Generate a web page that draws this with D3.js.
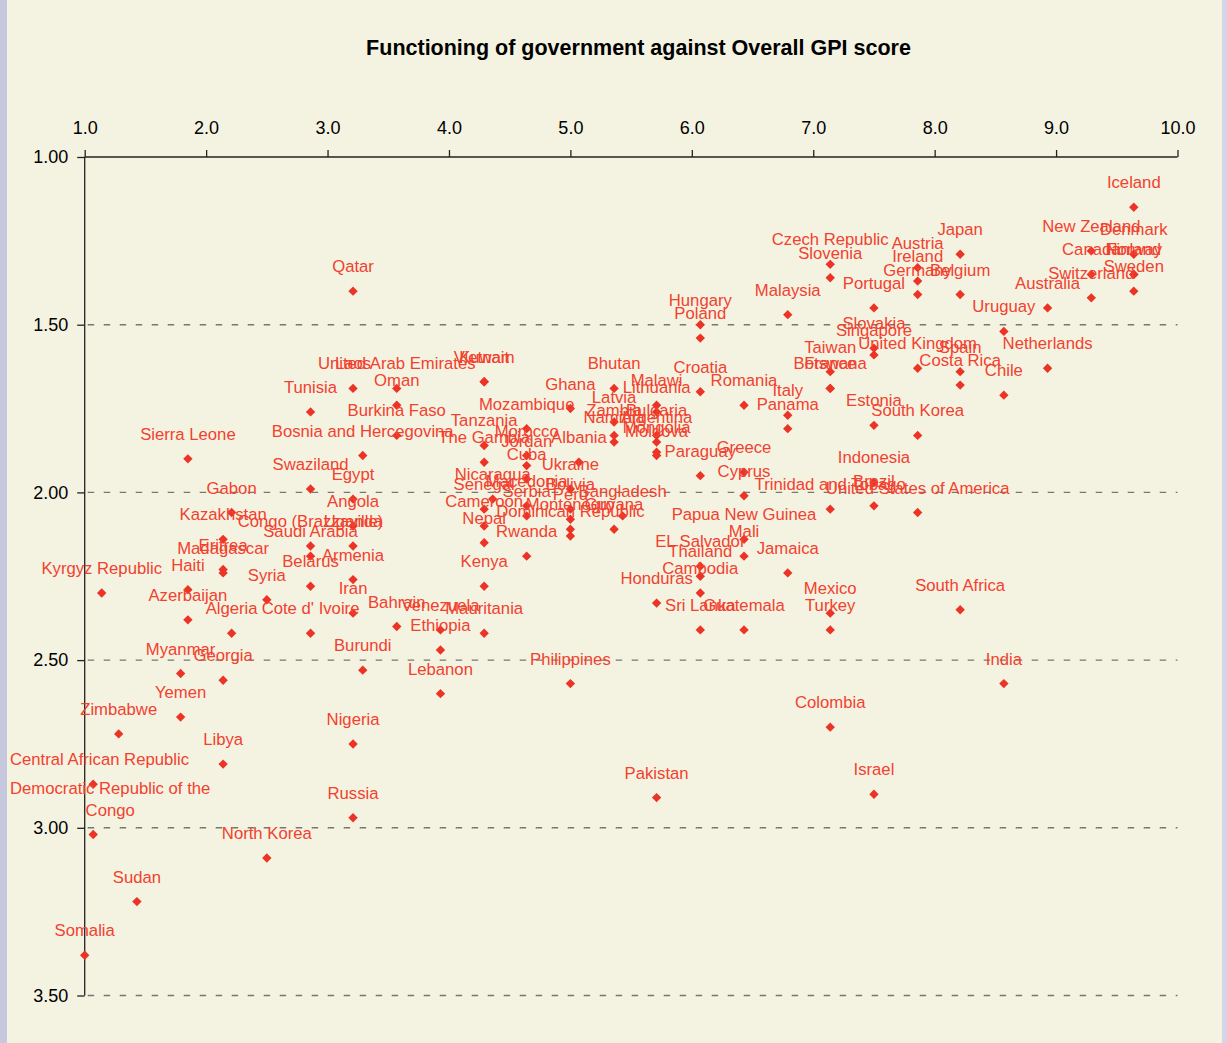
<!DOCTYPE html>
<html>
<head>
<meta charset="utf-8">
<script src="https://cdn.jsdelivr.net/npm/d3@7"></script>
<style>
  body { margin: 0; background: #c6c9dd; }
  svg { display: block; }
  text { font-family: "Liberation Sans", Arial, sans-serif; }
</style>
</head>
<body>
<script>
// country names, functioning of government score (x) and overall GPI score (y)
const countries = [
  "Iceland", "Japan", "Denmark", "New Zealand", "Czech Republic", "Austria", "Slovenia", "Ireland", "Canada", "Norway",
  "Finland", "Sweden", "Germany", "Belgium", "Switzerland", "Portugal", "Australia", "Malaysia", "Hungary", "Uruguay",
  "Poland", "Slovakia", "Singapore", "United Kingdom", "Netherlands", "Taiwan", "Spain", "Costa Rica", "Qatar", "Vietnam",
  "Kuwait", "Laos", "United Arab Emirates", "Bhutan", "Botswana", "France", "Croatia", "Chile", "Oman", "Malawi",
  "Romania", "Ghana", "Lithuania", "Tunisia", "Italy", "Latvia", "Estonia", "Mozambique", "Panama", "Zambia",
  "Bulgaria", "Burkina Faso", "South Korea", "Namibia", "Argentina", "Tanzania", "Mongolia", "Morocco", "Bosnia and Hercegovina", "Moldova",
  "Sierra Leone", "The Gambia", "Albania", "Jordan", "Greece", "Paraguay", "Cuba", "Indonesia", "Swaziland", "Ukraine",
  "Cyprus", "Egypt", "Nicaragua", "Macedonia", "Brazil", "Senegal", "Bolivia", "Trinidad and Tobago", "Gabon", "United States of America",
  "Serbia", "Bangladesh", "Peru", "Angola", "Cameroon", "Montenegro", "Guyana", "Dominican Republic", "Kazakhstan", "Papua New Guinea",
  "Nepal", "Uganda", "Congo (Brazzaville)", "Saudi Arabia", "Rwanda", "Mali", "EL Salvador", "Eritrea", "Madagascar", "Jamaica",
  "Thailand", "Armenia", "Kenya", "Belarus", "Haiti", "Kyrgyz Republic", "Cambodia", "Syria", "Honduras", "South Africa",
  "Iran", "Mexico", "Azerbaijan", "Bahrain", "Venezuela", "Sri Lanka", "Guatemala", "Turkey", "Cote d' Ivoire", "Algeria",
  "Mauritania", "Ethiopia", "Burundi", "Myanmar", "Georgia", "India", "Philippines", "Lebanon", "Yemen", "Colombia",
  "Zimbabwe", "Nigeria", "Libya", "Central African Republic", "Israel", "Pakistan", "Russia", "Democratic Republic of the Congo", "North Korea", "Sudan",
  "Somalia"
];
const govScore = [
  9.64, 8.21, 9.64, 9.29, 7.14, 7.86, 7.14, 7.86, 9.29, 9.64,
  9.64, 9.64, 7.86, 8.21, 9.29, 7.50, 8.93, 6.79, 6.07, 8.57,
  6.07, 7.50, 7.50, 7.86, 8.93, 7.14, 8.21, 8.21, 3.21, 4.29,
  4.29, 3.21, 3.57, 5.36, 7.14, 7.14, 6.07, 8.57, 3.57, 5.71,
  6.43, 5.00, 5.71, 2.86, 6.79, 5.36, 7.50, 4.64, 6.79, 5.36,
  5.71, 3.57, 7.86, 5.36, 5.71, 4.29, 5.71, 4.64, 3.29, 5.71,
  1.85, 4.29, 5.07, 4.64, 6.43, 6.07, 4.64, 7.50, 2.86, 5.00,
  6.43, 3.21, 4.36, 4.64, 7.50, 4.29, 5.00, 7.14, 2.21, 7.86,
  4.64, 5.43, 5.00, 3.21, 4.29, 5.00, 5.36, 5.00, 2.14, 6.43,
  4.29, 3.21, 2.86, 2.86, 4.64, 6.43, 6.07, 2.14, 2.14, 6.79,
  6.07, 3.21, 4.29, 2.86, 1.85, 1.14, 6.07, 2.50, 5.71, 8.21,
  3.21, 7.14, 1.85, 3.57, 3.93, 6.07, 6.43, 7.14, 2.86, 2.21,
  4.29, 3.93, 3.29, 1.79, 2.14, 8.57, 5.00, 3.93, 1.79, 7.14,
  1.28, 3.21, 2.14, 1.07, 7.50, 5.71, 3.21, 1.07, 2.50, 1.43,
  1.00
];
const gpiScore = [
  1.15, 1.29, 1.29, 1.28, 1.32, 1.33, 1.36, 1.37, 1.35, 1.35,
  1.35, 1.40, 1.41, 1.41, 1.42, 1.45, 1.45, 1.47, 1.50, 1.52,
  1.54, 1.57, 1.59, 1.63, 1.63, 1.64, 1.64, 1.68, 1.40, 1.67,
  1.67, 1.69, 1.69, 1.69, 1.69, 1.69, 1.70, 1.71, 1.74, 1.74,
  1.74, 1.75, 1.76, 1.76, 1.77, 1.79, 1.80, 1.81, 1.81, 1.83,
  1.83, 1.83, 1.83, 1.85, 1.85, 1.86, 1.88, 1.89, 1.89, 1.89,
  1.90, 1.91, 1.91, 1.92, 1.94, 1.95, 1.96, 1.97, 1.99, 1.99,
  2.01, 2.02, 2.02, 2.04, 2.04, 2.05, 2.05, 2.05, 2.06, 2.06,
  2.07, 2.07, 2.08, 2.10, 2.10, 2.11, 2.11, 2.13, 2.14, 2.14,
  2.15, 2.16, 2.16, 2.19, 2.19, 2.19, 2.22, 2.23, 2.24, 2.24,
  2.25, 2.26, 2.28, 2.28, 2.29, 2.30, 2.30, 2.32, 2.33, 2.35,
  2.36, 2.36, 2.38, 2.40, 2.41, 2.41, 2.41, 2.41, 2.42, 2.42,
  2.42, 2.47, 2.53, 2.54, 2.56, 2.57, 2.57, 2.60, 2.67, 2.70,
  2.72, 2.75, 2.81, 2.87, 2.90, 2.91, 2.97, 3.02, 3.09, 3.22,
  3.38
];
const xTicks = [1, 2, 3, 4, 5, 6, 7, 8, 9, 10];
const yTicks = [1.0, 1.5, 2.0, 2.5, 3.0, 3.5];
const title = "Functioning of government against Overall GPI score";

const W = 1227, H = 1043;
const svg = d3.select("body").append("svg")
  .attr("width", W)
  .attr("height", H);

// chart area
svg.append("rect").attr("x", 7).attr("y", 0).attr("width", 1215).attr("height", H).attr("fill", "#f4f3e1");
svg.append("rect").attr("x", 1222).attr("y", 0).attr("width", 5).attr("height", H).attr("fill", "#d3d6e6");

const x = d3.scaleLinear().domain([1, 10]).range([84.7, 1177.5]);
const y = d3.scaleLinear().domain([1, 3.5]).range([157, 995.5]);

svg.append("text")
  .attr("x", 638.5).attr("y", 55)
  .attr("text-anchor", "middle")
  .attr("font-size", 21.5).attr("font-weight", "bold")
  .attr("fill", "#000")
  .text(title);

// dashed gridlines
svg.append("g").selectAll("line")
  .data(yTicks.filter(d => d > 1))
  .join("line")
  .attr("x1", x(1)).attr("x2", x(10))
  .attr("y1", d => y(d)).attr("y2", d => y(d))
  .attr("stroke", "#77776f")
  .attr("stroke-width", 1.4)
  .attr("stroke-dasharray", "6.5,9.5")
  .attr("stroke-dashoffset", -3);

// axes
const xAxis = svg.append("g")
  .attr("transform", `translate(0,${y(1)})`)
  .call(d3.axisTop(x).tickValues(xTicks).tickSize(7).tickPadding(16.5).tickFormat(d3.format(".1f")));
const yAxis = svg.append("g")
  .attr("transform", `translate(${x(1)},0)`)
  .call(d3.axisLeft(y).tickValues(yTicks).tickSize(7.5).tickPadding(9).tickFormat(d3.format(".2f")));
[xAxis, yAxis].forEach(g => {
  g.select(".domain").attr("stroke", "#222").attr("stroke-width", 1.3);
  g.selectAll(".tick line").attr("stroke", "#222").attr("stroke-width", 1.3);
  g.selectAll(".tick text")
    .attr("font-size", 18)
    .attr("font-family", "'Liberation Sans', Arial, sans-serif")
    .attr("fill", "#000");
});
yAxis.select(".domain").attr("d", `M0,${y(1)}V${y(3.5)}`);
xAxis.select(".domain").attr("d", `M${x(1)},0H${x(10)}`);

const data = countries.map((name, i) => ({ name, gov: govScore[i], gpi: gpiScore[i] }));

// diamond markers
const diamond = d3.symbol().type(d3.symbolSquare).size(44);
svg.append("g").selectAll("path")
  .data(data)
  .join("path")
  .attr("d", diamond)
  .attr("transform", d => `translate(${x(d.gov)},${y(d.gpi)}) rotate(45)`)
  .attr("fill", "#ec3426");

// labels, centred above each point, wrapped when too wide, kept inside chart
const labelG = svg.append("g");
const maxW = 215, lineH = 21.7, leftLimit = 10;
data.forEach(d => {
  const px = x(d.gov), py = y(d.gpi);
  const t = labelG.append("text")
    .attr("text-anchor", "middle")
    .attr("font-size", 16.7)
    .attr("fill", "#f2412f")
    .text(d.name);
  let lines = [d.name];
  if (t.node().getComputedTextLength() > maxW) {
    const words = d.name.split(" ");
    lines = [];
    let cur = "";
    words.forEach(w => {
      const test = cur ? cur + " " + w : w;
      t.text(test);
      if (t.node().getComputedTextLength() > maxW && cur) {
        lines.push(cur);
        cur = w;
      } else {
        cur = test;
      }
    });
    lines.push(cur);
  }
  t.text(null);
  lines.forEach((ln, i) => {
    t.append("tspan")
      .attr("x", px)
      .attr("y", py - 19 - (lines.length - 1 - i) * lineH)
      .text(ln);
  });
  const bb = t.node().getBBox();
  if (bb.x < leftLimit) {
    const shift = leftLimit - bb.x;
    t.selectAll("tspan").attr("x", px + shift);
  }
});
</script>
</body>
</html>
